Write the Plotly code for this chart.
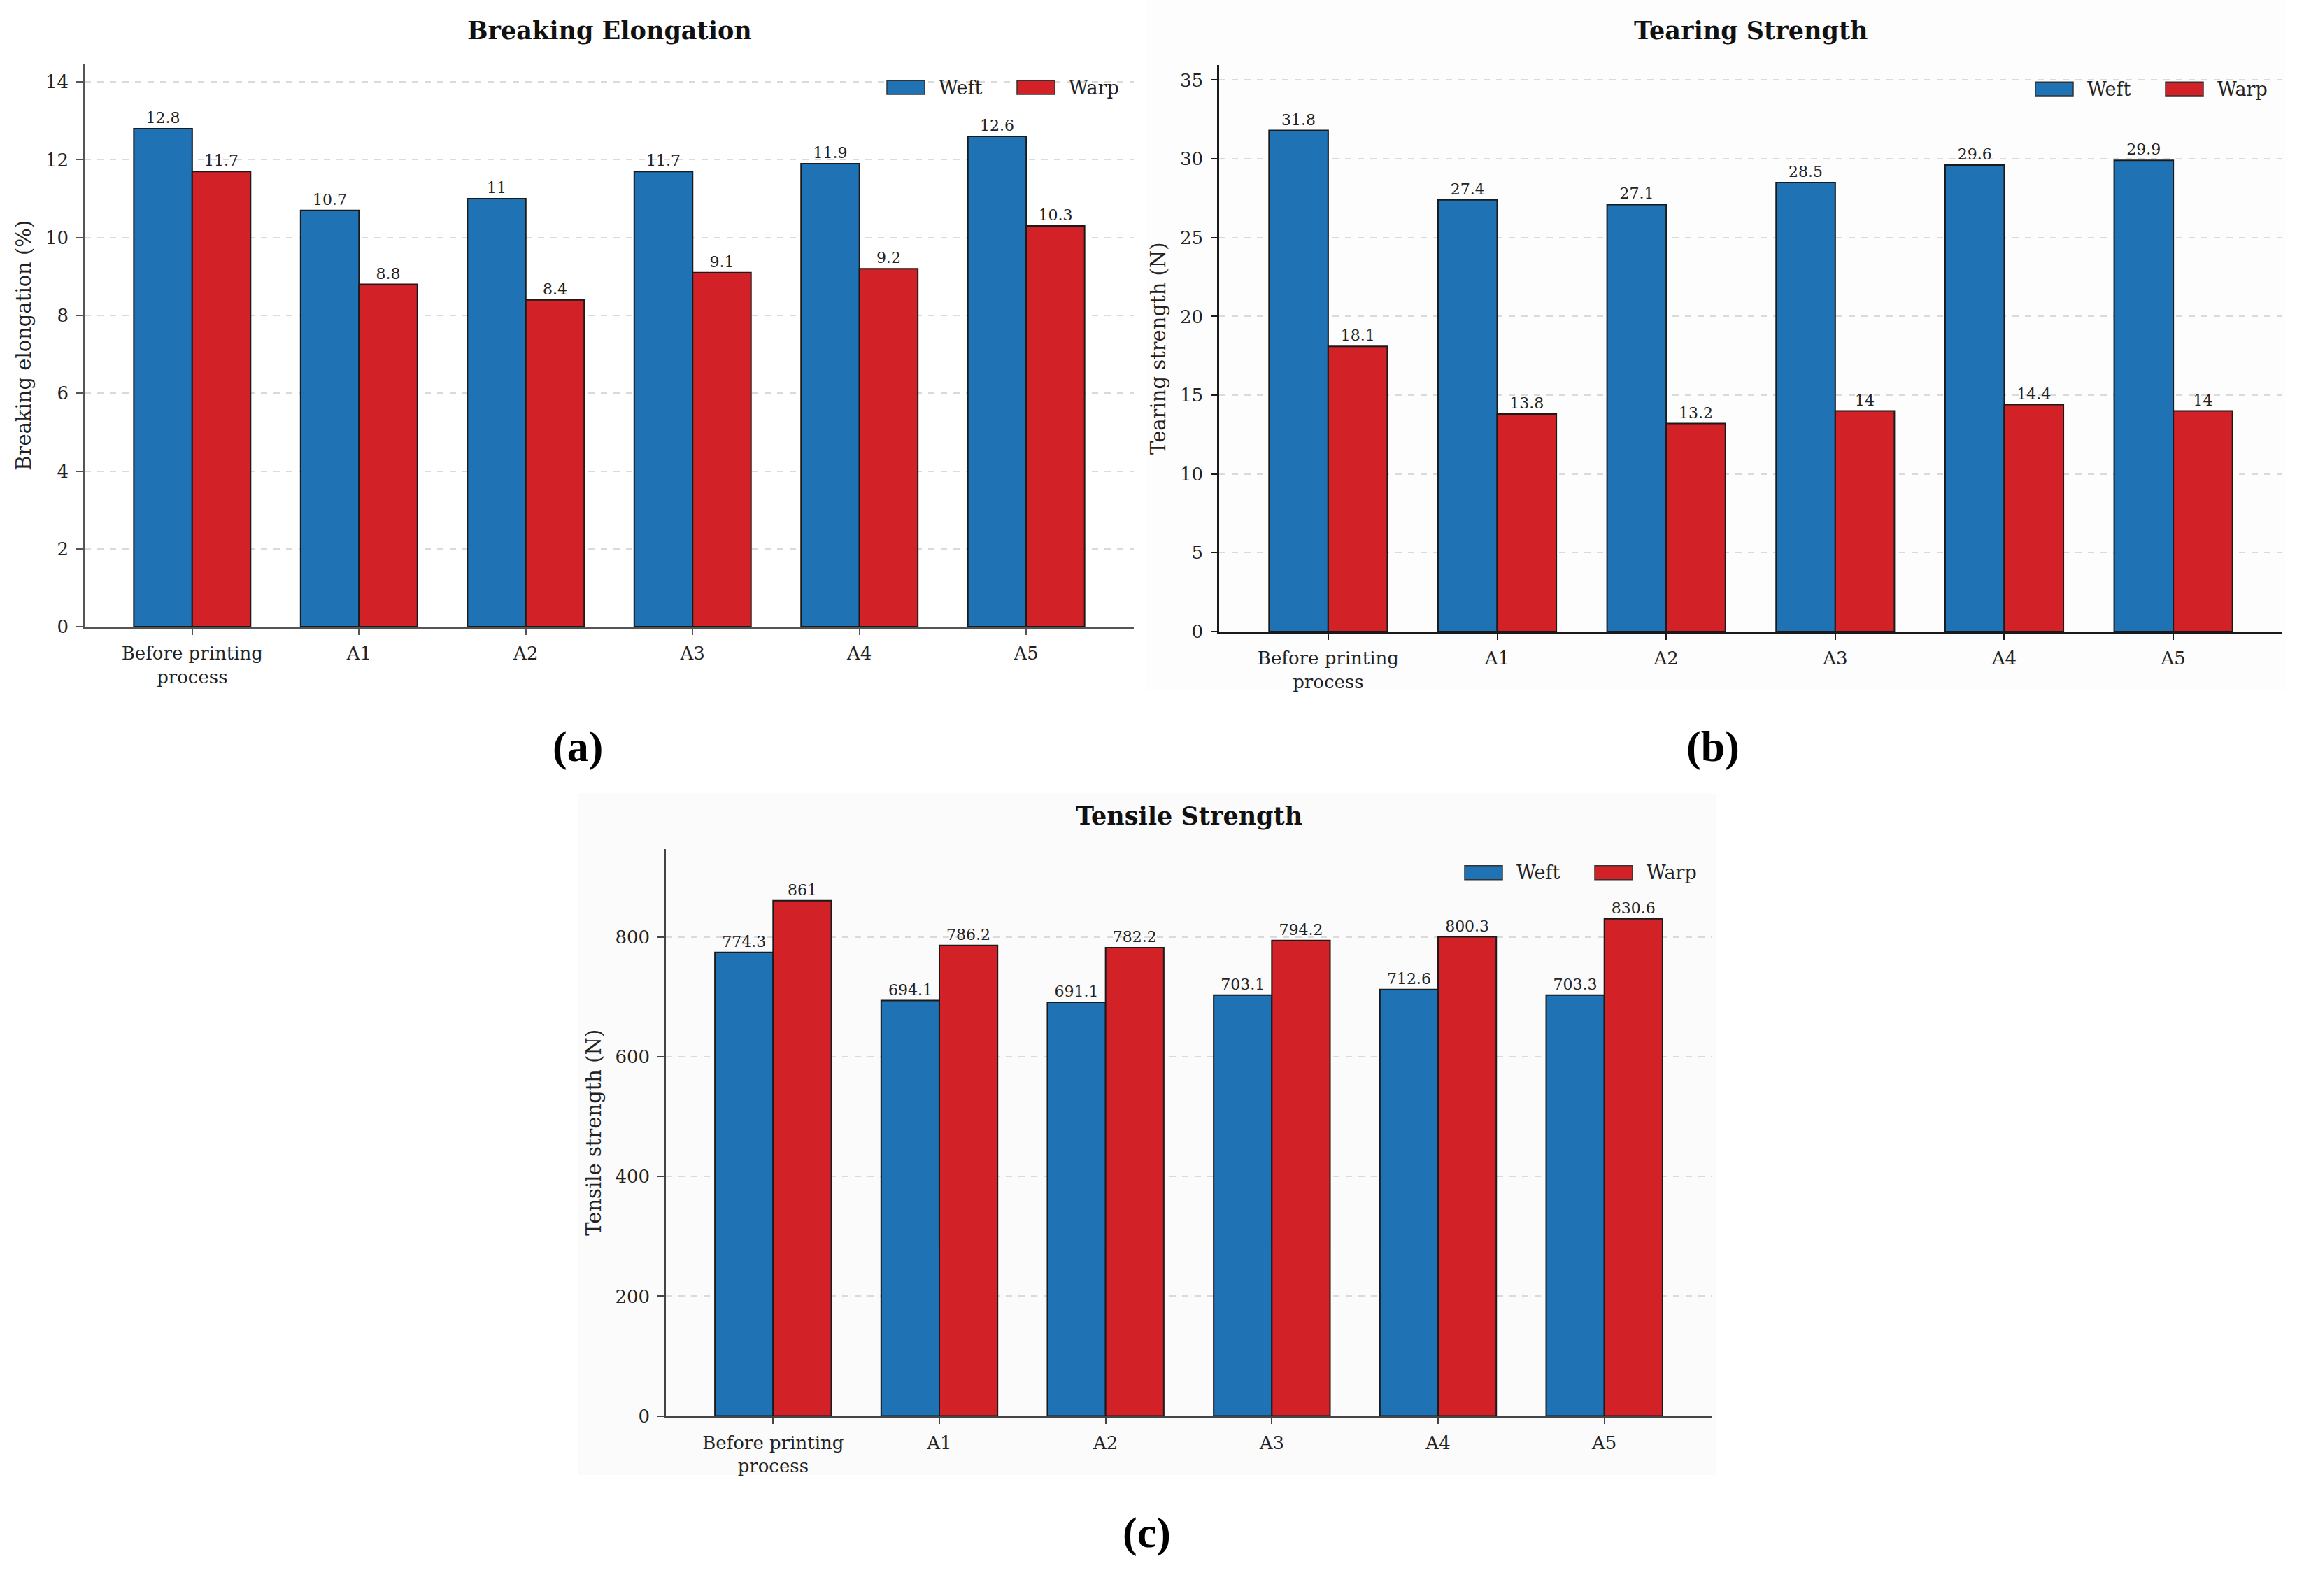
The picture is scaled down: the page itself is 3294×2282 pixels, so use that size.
import plotly.graph_objects as go

# ---------------- data ----------------
categories = ["Before printing<br>process", "A1", "A2", "A3", "A4", "A5"]
series_names = ["Weft", "Warp"]

elong_weft = [12.8, 10.7, 11.0, 11.7, 11.9, 12.6]
elong_warp = [11.7, 8.8, 8.4, 9.1, 9.2, 10.3]

tear_weft = [31.8, 27.4, 27.1, 28.5, 29.6, 29.9]
tear_warp = [18.1, 13.8, 13.2, 14.0, 14.4, 14.0]

tensile_weft = [774.3, 694.1, 691.1, 703.1, 712.6, 703.3]
tensile_warp = [861.0, 786.2, 782.2, 794.2, 800.3, 830.6]

titles = ["Breaking Elongation", "Tearing Strength", "Tensile Strength"]
ytitles = ["Breaking elongation (%)", "Tearing strength (N)", "Tensile strength (N)"]
panel_labels = ["(a)", "(b)", "(c)"]

# ---------------- layout helpers ----------------
W, H = 3294, 2282
def px(x):
    return x / W
def py(y):
    return 1 - y / H

BLUE = "#1f72b3"
RED = "#d32227"
EDGE = "#1a1a1a"
FONT = "DejaVu Serif"
TXT = "#222222"

# pixel boxes of each axes: left, right, top, bottom
panels = [
    dict(box=(121, 1621, 92, 902), weft=elong_weft, warp=elong_warp, ymax=max(elong_weft + elong_warp) * 1.13,
         dtick=2, axcol="#555555", title_y=44, label_xy=(826, 1075)),
    dict(box=(1743, 3263, 94, 909), weft=tear_weft, warp=tear_warp, ymax=max(tear_weft + tear_warp) * 1.13,
         dtick=5, axcol="#1a1a1a", title_y=44, label_xy=(2449, 1075)),
    dict(box=(952, 2447, 1222, 2038), weft=tensile_weft, warp=tensile_warp, ymax=max(tensile_weft + tensile_warp) * 1.1,
         dtick=200, axcol="#444444", title_y=1174, label_xy=(1639, 2206)),
]

fig = go.Figure()
shapes = []
annotations = []

# faint background panels
shapes.append(dict(type="rect", xref="paper", yref="paper", x0=px(1640), x1=px(3267), y0=py(993), y1=py(0),
                   fillcolor="#fdfdfd", line=dict(width=0), layer="below"))
shapes.append(dict(type="rect", xref="paper", yref="paper", x0=px(827), x1=px(2453), y0=py(2123), y1=py(1142),
                   fillcolor="#fbfbfb", line=dict(width=0), layer="below"))

for i, p in enumerate(panels):
    n = "" if i == 0 else str(i + 1)
    xa, ya = "x" + n, "y" + n
    l, r, t, b = p["box"]
    for name, vals, col in [(series_names[0], p["weft"], BLUE), (series_names[1], p["warp"], RED)]:
        fig.add_trace(go.Bar(
            x=categories, y=vals, name=name, xaxis=xa, yaxis=ya,
            marker=dict(color=col, line=dict(color=EDGE, width=2)),
            texttemplate="%{y}", textposition="outside",
            outsidetextfont=dict(family=FONT, size=22, color=TXT),
            cliponaxis=False, showlegend=False,
        ))
    axis_common = dict(
        showline=True, linecolor=p["axcol"], linewidth=2.5,
        ticks="outside", ticklen=9, tickwidth=2, tickcolor=p["axcol"],
        tickfont=dict(family=FONT, size=26, color=TXT),
        zeroline=False,
    )
    fig.layout["xaxis" + n] = dict(
        axis_common, domain=[px(l), px(r)], anchor=ya, range=[-0.645, 5.645],
        showgrid=False, type="category", ticklabelstandoff=4,
    )
    fig.layout["yaxis" + n] = dict(
        axis_common, domain=[py(b), py(t)], anchor=xa, range=[0, p["ymax"]],
        dtick=p["dtick"], tick0=0, showgrid=True, gridcolor="#dadada", griddash="dash", gridwidth=1.5,
        ticklabelstandoff=6,
        title=dict(text=ytitles[i], font=dict(family=FONT, size=29, color=TXT), standoff=12),
    )
    # title
    annotations.append(dict(xref="paper", yref="paper", x=px((l + r) / 2), y=py(p["title_y"]),
                            text="<b>" + titles[i] + "</b>", showarrow=False,
                            font=dict(family=FONT, size=35, color="#111111"),
                            xanchor="center", yanchor="middle"))
    # panel label
    lx, ly = p["label_xy"]
    annotations.append(dict(xref="paper", yref="paper", x=px(lx), y=py(ly), text="<b>" + panel_labels[i] + "</b>",
                            showarrow=False, font=dict(family="Liberation Serif", size=62, color="#000000"),
                            xanchor="center", yanchor="middle"))
    # manual legend
    ly_leg = t + 34
    items = [(series_names[0], BLUE, r - 353), (series_names[1], RED, r - 167)]
    for name, col, x0 in items:
        shapes.append(dict(type="rect", xref="paper", yref="paper",
                           x0=px(x0), x1=px(x0 + 54), y0=py(ly_leg + 10), y1=py(ly_leg - 10),
                           fillcolor=col, line=dict(color="#333333", width=1.5)))
        annotations.append(dict(xref="paper", yref="paper", x=px(x0 + 72), y=py(ly_leg), text=name,
                                showarrow=False, font=dict(family=FONT, size=27, color=TXT),
                                xanchor="left", yanchor="middle"))

fig.update_layout(
    width=W, height=H, margin=dict(l=0, r=0, t=0, b=0),
    paper_bgcolor="white", plot_bgcolor="rgba(0,0,0,0)",
    barmode="group", bargap=0.3, bargroupgap=0,
    shapes=shapes, annotations=annotations, showlegend=False,
    uniformtext=dict(mode=False),
)

fig.write_html("out.html")
